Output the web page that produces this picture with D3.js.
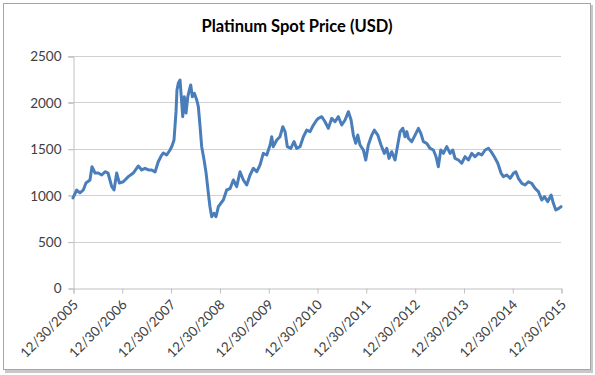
<!DOCTYPE html>
<html>
<head>
<meta charset="utf-8">
<script src="https://cdn.jsdelivr.net/npm/d3@7"></script>
<style>
  html, body { margin: 0; padding: 0; background: #fff; }
  svg { display: block; }
</style>
</head>
<body>
<svg id="chart" width="595" height="375"></svg>
<script>
const title = "Platinum Spot Price (USD)";
const yTicks = [0, 500, 1000, 1500, 2000, 2500];
const xTickLabels = ["12/30/2005","12/30/2006","12/30/2007","12/30/2008","12/30/2009","12/30/2010","12/30/2011","12/30/2012","12/30/2013","12/30/2014","12/30/2015"];
const dates = ["2005-12-30","2006-01-27","2006-02-20","2006-03-17","2006-04-06","2006-05-06","2006-05-21","2006-06-13","2006-07-07","2006-08-02","2006-08-27","2006-09-18","2006-10-16","2006-11-02","2006-11-22","2006-12-12","2007-01-10","2007-02-17","2007-03-26","2007-05-03","2007-05-28","2007-06-22","2007-07-17","2007-08-11","2007-09-05","2007-09-29","2007-10-20","2007-11-06","2007-12-01","2007-12-26","2008-01-10","2008-01-25","2008-02-09","2008-02-16","2008-02-26","2008-03-10","2008-03-23","2008-03-30","2008-04-11","2008-04-24","2008-05-07","2008-05-19","2008-05-29","2008-06-10","2008-06-25","2008-07-13","2008-07-25","2008-08-07","2008-08-19","2008-09-06","2008-09-21","2008-10-08","2008-10-20","2008-11-02","2008-11-19","2008-12-04","2008-12-22","2009-01-09","2009-01-28","2009-02-22","2009-03-19","2009-04-13","2009-05-08","2009-06-02","2009-06-27","2009-07-22","2009-08-16","2009-09-10","2009-10-05","2009-10-30","2009-11-23","2009-12-19","2010-01-13","2010-01-25","2010-02-06","2010-03-04","2010-03-28","2010-04-18","2010-05-05","2010-05-22","2010-06-17","2010-07-11","2010-07-31","2010-08-25","2010-09-19","2010-10-14","2010-11-08","2010-12-03","2010-12-28","2011-01-09","2011-02-04","2011-02-28","2011-03-25","2011-04-19","2011-05-14","2011-06-08","2011-07-03","2011-07-28","2011-08-22","2011-09-11","2011-09-28","2011-10-16","2011-10-31","2011-11-17","2011-12-12","2011-12-30","2012-01-18","2012-02-13","2012-03-03","2012-03-29","2012-04-22","2012-05-17","2012-06-04","2012-06-21","2012-07-11","2012-08-05","2012-08-25","2012-09-12","2012-10-02","2012-10-19","2012-11-01","2012-11-13","2012-12-08","2013-01-02","2013-01-27","2013-02-14","2013-03-05","2013-03-30","2013-04-24","2013-05-19","2013-06-08","2013-06-25","2013-07-13","2013-08-02","2013-08-27","2013-09-21","2013-10-11","2013-10-28","2013-11-22","2013-12-17","2014-01-11","2014-02-05","2014-03-02","2014-03-27","2014-04-21","2014-05-16","2014-06-10","2014-07-05","2014-07-25","2014-08-18","2014-09-13","2014-10-08","2014-10-25","2014-11-19","2014-12-14","2015-01-08","2015-01-26","2015-02-14","2015-03-12","2015-04-05","2015-04-30","2015-05-25","2015-06-19","2015-07-14","2015-08-08","2015-08-28","2015-09-22","2015-10-17","2015-11-03","2015-11-21","2015-12-13","2015-12-30"];
const prices = [970,1056,1024,1056,1131,1164,1307,1239,1239,1218,1253,1239,1092,1056,1239,1131,1145,1200,1239,1315,1272,1290,1272,1272,1250,1360,1420,1455,1433,1487,1530,1595,1900,2134,2206,2241,1993,1846,2061,1886,2061,2134,2188,2061,2098,2026,1954,1738,1523,1379,1239,1020,876,768,805,768,876,913,948,1056,1070,1164,1092,1253,1164,1110,1218,1290,1253,1326,1451,1433,1541,1630,1523,1595,1630,1738,1685,1523,1505,1577,1505,1523,1630,1702,1685,1756,1810,1828,1846,1792,1721,1828,1792,1846,1756,1810,1900,1810,1648,1559,1648,1541,1487,1379,1541,1648,1702,1648,1541,1451,1505,1397,1469,1379,1541,1685,1721,1630,1685,1613,1577,1648,1721,1667,1577,1559,1505,1487,1415,1307,1487,1451,1523,1451,1487,1397,1379,1344,1415,1379,1451,1415,1451,1433,1487,1505,1469,1415,1344,1236,1200,1218,1182,1236,1253,1182,1128,1110,1145,1128,1074,1038,948,984,930,1002,913,840,858,876];

const parse = d3.timeParse("%m/%d/%Y");
const parseISO = d3.timeParse("%Y-%m-%d");
const data = dates.map((d, i) => ({ date: parseISO(d), value: prices[i] }));
const tickDates = xTickLabels.map(parse);

const svg = d3.select("#chart");
const m = { left: 73, right: 561, top: 56, bottom: 288 };

// outer frame with soft shadow
svg.append("rect").attr("x", 5).attr("y", 5).attr("width", 588).attr("height", 368).attr("fill", "#c8c8c8");
svg.append("rect").attr("x", 3.5).attr("y", 3.5).attr("width", 587).attr("height", 366)
  .attr("fill", "#fff").attr("stroke", "#a6a6a6").attr("stroke-width", 1);

const x = d3.scaleTime().domain([tickDates[0], tickDates[tickDates.length - 1]]).range([m.left, m.right]);
const y = d3.scaleLinear().domain([0, 2500]).range([m.bottom, m.top]);

// gridlines
svg.append("g").selectAll("line").data(yTicks.filter(t => t > 0)).join("line")
  .attr("x1", m.left - 5).attr("x2", m.right)
  .attr("y1", d => Math.round(y(d)) + 0.5).attr("y2", d => Math.round(y(d)) + 0.5)
  .attr("stroke", "#d0d0d0").attr("stroke-width", 1);

// y axis
const yAxis = d3.axisLeft(y).tickValues(yTicks).tickSize(5).tickPadding(7).tickFormat(d3.format("d"));
const gy = svg.append("g").attr("transform", `translate(${m.left + 0.5},0.5)`).call(yAxis);
gy.select(".domain").attr("stroke", "#c0c0c0");
gy.selectAll(".tick line").attr("stroke", "#c0c0c0");
gy.selectAll("text").attr("font-family", "Lato, 'Open Sans', sans-serif").attr("font-size", 13.5).attr("fill", "#404040");

// x axis
const xAxis = d3.axisBottom(x).tickValues(tickDates).tickSize(5).tickFormat((d, i) => xTickLabels[i]);
const gx = svg.append("g").attr("transform", `translate(0.5,${m.bottom + 0.5})`).call(xAxis);
gx.select(".domain").attr("stroke", "#c0c0c0");
gx.selectAll(".tick line").attr("stroke", "#c0c0c0");
gx.selectAll("text")
  .attr("font-family", "Lato, 'Open Sans', sans-serif").attr("font-size", 13.5).attr("fill", "#404040")
  .attr("text-anchor", "end").attr("dy", 0).attr("y", 0)
  .attr("transform", "translate(5,17) rotate(-45)");

// line
const line = d3.line().x(d => x(d.date)).y(d => y(d.value));
svg.append("path").datum(data).attr("d", line)
  .attr("fill", "none").attr("stroke", "#4a7ebb").attr("stroke-width", 3)
  .attr("stroke-linejoin", "round").attr("stroke-linecap", "round");

// title
svg.append("text").attr("x", 297).attr("y", 32).attr("text-anchor", "middle")
  .attr("font-family", "Lato, 'Open Sans', sans-serif").attr("font-weight", "bold")
  .attr("font-size", 16.5).attr("fill", "#000").text(title);
</script>
</body>
</html>
